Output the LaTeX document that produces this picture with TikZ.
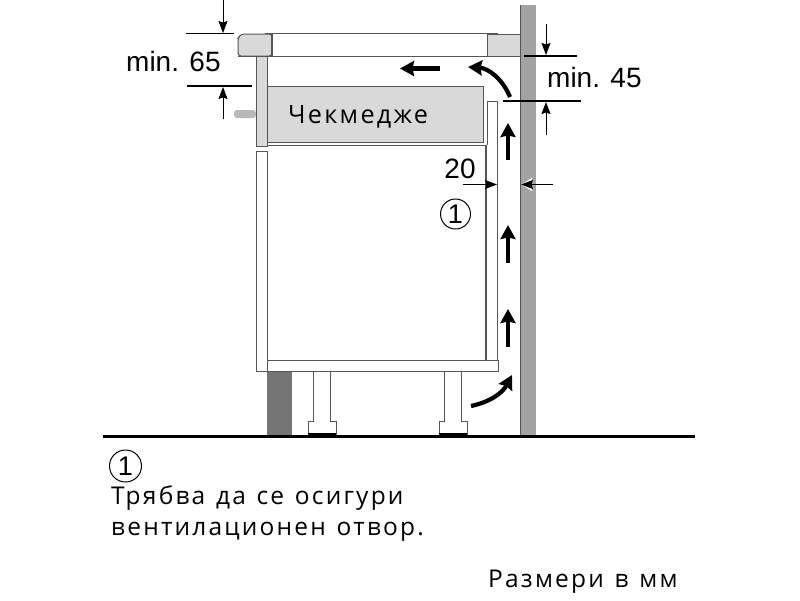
\documentclass[tikz,border=0pt]{standalone}
\usepackage{fontspec}
\setmainfont{Liberation Sans}
\newfontfamily\labelfont[LetterSpace=9,WordSpace=1.25]{Open Sans}
\usetikzlibrary{arrows.meta}
\definecolor{panelgrey}{HTML}{D9D9D9}
\definecolor{wallgrey}{HTML}{A3A3A3}
\definecolor{basegrey}{HTML}{757575}
\definecolor{linegrey}{HTML}{555555}
\tikzset{dim line/.style={black,line width=1.1pt},
  dim arrow/.style={black,line width=0.9pt,-{Stealth[length=12pt,width=9pt,inset=1.5pt]}},
  air arrow/.style={black,line width=4.2pt,-{Stealth[length=14pt,width=15pt,inset=1.5pt]}},
  cab line/.style={linegrey,line width=1pt},
  dim label/.style={font=\fontsize{28}{30}\selectfont,inner sep=0pt},
  text label/.style={font=\labelfont\fontsize{24.5}{27}\selectfont,inner sep=0pt,anchor=base west},
  mark circle/.style={circle,draw=black,line width=1pt,minimum size=30pt,inner sep=0pt,font=\fontsize{27}{28}\selectfont}}
\begin{document}
\begin{tikzpicture}[x=1pt,y=-1pt]
    \useasboundingbox (0,0) rectangle (800,600);
    % wall and worktop
    \fill[wallgrey] (520,5) rectangle (536,436);
    \draw[linegrey,line width=1.2pt] (520.5,5) -- (520.5,436);
    \draw[cab line,fill=panelgrey,rounded corners=3pt] (272,34) -- (241,34) -- (238,38) -- (238,56) -- (272,56) -- cycle;
    \draw[cab line,fill=panelgrey] (487,34) rectangle (520,56);
    \draw[linegrey,line width=1.6pt] (265,33.5) -- (498,33.5);
    \draw[linegrey,line width=1.4pt] (272,34) -- (272,56);
    \draw[cab line] (238,56) -- (520,56);
    % drawer part
    \fill[panelgrey!85!black,rounded corners=3pt] (256,110) -- (234,110) -- (234,118) -- (256,118) -- cycle;
    \draw[cab line,fill=panelgrey] (256,56) rectangle (267,146);
    \draw[cab line,fill=panelgrey] (267,86) rectangle (483,142);
    \draw[cab line] (267,145) -- (486,145);
    \node[text label,font=\labelfont\fontsize{25.2}{27}\selectfont] (drawer) at (288,123) {Чекмедже};
    % plinth and legs
    \fill[basegrey] (267,371) rectangle (292,436);
    \foreach \legx in {313,444}{
      \draw[cab line,fill=white] (\legx,371) -- (\legx,421) -- (\legx-5,421) -- (\legx-5,435) -- (\legx+23,435) -- (\legx+23,421) -- (\legx+17,421) -- (\legx+17,371);
      \draw[black,line width=2.5pt] (\legx-5,434.5) -- (\legx+23,434.5);
    }
    \draw[black,line width=3pt] (103,436) -- (695,436);
    % carcass
    \draw[cab line] (267,371) -- (256,371) -- (256,151) -- (267,151) -- (267,360);
    \draw[cab line] (267,360) rectangle (498,371);
    \draw[linegrey,line width=1.3pt] (486,145) -- (486,360);
    \draw[cab line] (487,145) -- (487,101) -- (497.5,101) -- (497.5,360);
    % air flow
    \coordinate (up1a) at (508,160);
    \coordinate (up1b) at (508,123);
    \coordinate (up2a) at (508,263);
    \coordinate (up2b) at (508,225);
    \coordinate (up3a) at (508,347);
    \coordinate (up3b) at (508,309);
    \coordinate (lefta) at (440,68.5);
    \coordinate (leftb) at (400,68.5);
    \coordinate (curvea) at (510,97);
    \coordinate (curveb) at (468,67);
    \coordinate (curvec) at (471,406);
    \coordinate (curved) at (512,375);
    \draw[air arrow] (up1a) -- (up1b);
    \draw[air arrow] (up2a) -- (up2b);
    \draw[air arrow] (up3a) -- (up3b);
    \draw[air arrow] (lefta) -- (leftb);
    \draw[air arrow] (curvea) to[bend right=32] (curveb);
    \draw[air arrow] (curvec) to[bend right=25] (curved);
    % dimensions, left
    \coordinate (t65a) at (223,0);
    \coordinate (t65b) at (223,33);
    \coordinate (b65a) at (223,119);
    \coordinate (b65b) at (223,87);
    \draw[dim line] (186,33.5) -- (234,33.5);
    \draw[dim line] (187,86) -- (252,86);
    \draw[dim arrow] (t65a) -- (t65b);
    \draw[dim arrow] (b65a) -- (b65b);
    \node[dim label,anchor=base west] (min65) at (126,71) {min. 65};
    % dimensions, right
    \coordinate (t45a) at (546,24);
    \coordinate (t45b) at (546,55);
    \coordinate (b45a) at (546,135);
    \coordinate (b45b) at (546,102);
    \draw[dim line] (524,56) -- (577,56);
    \draw[dim line] (503,101) -- (581,101);
    \draw[dim arrow] (t45a) -- (t45b);
    \draw[dim arrow] (b45a) -- (b45b);
    \node[dim label,anchor=base west] (min45) at (547,87) {min. 45};
    % gap
    \fill[white] (521,184.5) -- (532,178) -- (532,191) -- cycle;
    \coordinate (g20a) at (463,184.5);
    \coordinate (g20b) at (497,184.5);
    \coordinate (g20c) at (553,184.5);
    \coordinate (g20d) at (521,184.5);
    \draw[dim arrow] (g20a) -- (g20b);
    \draw[dim arrow] (g20c) -- (g20d);
    \node[dim label] (gap) at (460,169) {20};
    \node[mark circle] (mark1) at (455.5,214) {1};
    % legend
    \node[mark circle,minimum size=32pt] (mark2) at (125.5,466) {1};
    \node[text label] (note1) at (111,504) {Трябва да се осигури};
    \node[text label] (note2) at (111,535) {вентилационен отвор.};
    \node[text label] (units) at (488,587) {Размери в мм};
\end{tikzpicture}
\end{document}
